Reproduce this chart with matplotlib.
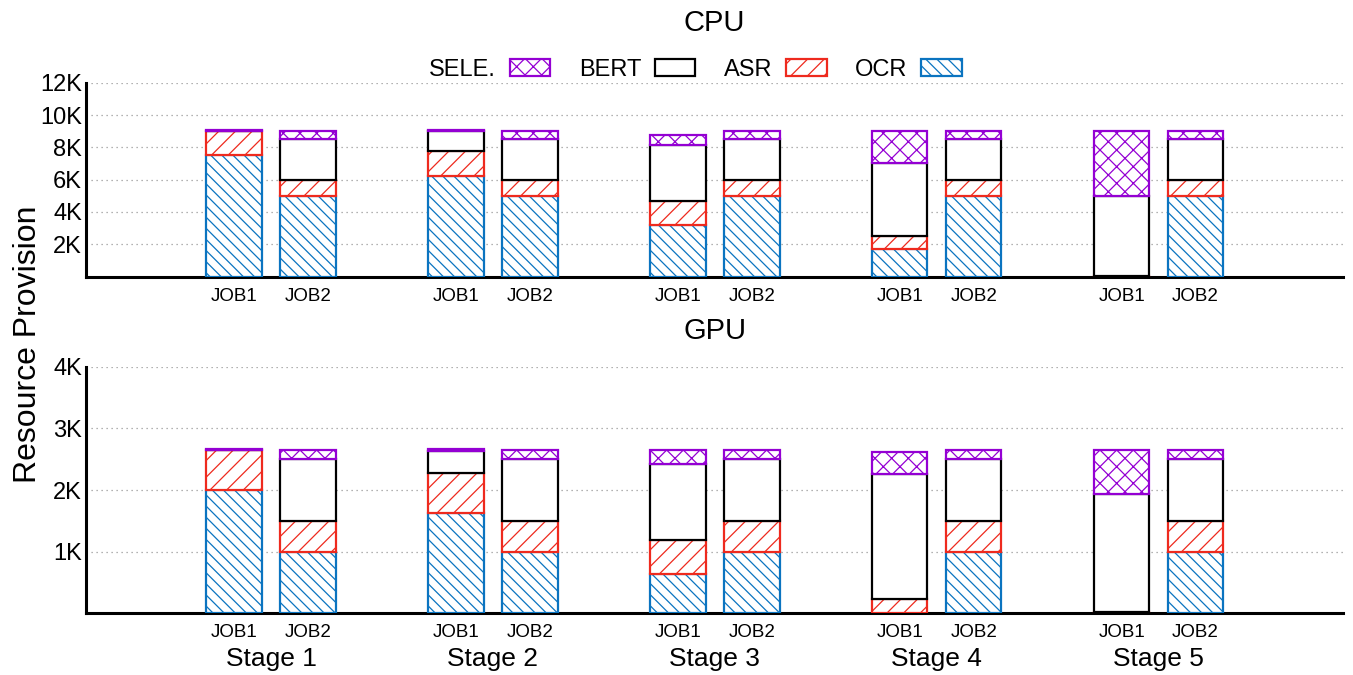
import matplotlib
matplotlib.use("Agg")
import matplotlib.pyplot as plt
import numpy as np

plt.rcParams['font.family'] = ['Liberation Sans', 'DejaVu Sans']
plt.rcParams['hatch.linewidth'] = 0.9

stages = ["Stage 1", "Stage 2", "Stage 3", "Stage 4", "Stage 5"]
jobs = ["JOB1", "JOB2"]
series = ["OCR", "ASR", "BERT", "SELE."]

# CPU provision (per stage), JOB1 and JOB2
cpu_job1_ocr = [7500, 6200, 3200, 1700, 0]
cpu_job1_asr = [1500, 1600, 1500, 800, 30]
cpu_job1_bert = [0, 1200, 3450, 4500, 4970]
cpu_job1_sele = [50, 80, 600, 2000, 4000]
cpu_job2_ocr = [5000, 5000, 5000, 5000, 5000]
cpu_job2_asr = [1000, 1000, 1000, 1000, 1000]
cpu_job2_bert = [2500, 2500, 2500, 2500, 2500]
cpu_job2_sele = [500, 500, 500, 500, 500]

# GPU provision
gpu_job1_ocr = [2000, 1630, 640, 10, 0]
gpu_job1_asr = [650, 650, 550, 230, 15]
gpu_job1_bert = [0, 360, 1230, 2020, 1925]
gpu_job1_sele = [20, 20, 230, 350, 710]
gpu_job2_ocr = [1000, 1000, 1000, 1000, 1000]
gpu_job2_asr = [500, 500, 500, 500, 500]
gpu_job2_bert = [1000, 1000, 1000, 1000, 1000]
gpu_job2_sele = [150, 150, 150, 150, 150]

cpu_ticks = [2000, 4000, 6000, 8000, 10000, 12000]
cpu_ticklabels = ["2K", "4K", "6K", "8K", "10K", "12K"]
gpu_ticks = [1000, 2000, 3000, 4000]
gpu_ticklabels = ["1K", "2K", "3K", "4K"]

styles = {
    "OCR": dict(facecolor="white", edgecolor="#0b74c0", hatch="\\\\\\"),
    "ASR": dict(facecolor="white", edgecolor="#ee2a1e", hatch="//"),
    "BERT": dict(facecolor="white", edgecolor="black", hatch=None),
    "SELE.": dict(facecolor="white", edgecolor="#9400d3", hatch="xx"),
}

fig = plt.figure(figsize=(13.53, 6.75), dpi=100)
ax_cpu = fig.add_axes([0.0636, 0.5902, 0.929, 0.2873])
ax_gpu = fig.add_axes([0.0636, 0.0914, 0.929, 0.3653])

x = np.arange(len(stages))
offset = 1 / 6
width = 0.25


def draw(ax, job_data, ymax, ticks, ticklabels):
    handles = {}
    for j, data in enumerate(job_data):
        pos = x + (-offset if j == 0 else offset)
        bottom = np.zeros(len(stages))
        for name, vals in zip(series, data):
            b = ax.bar(pos, vals, width, bottom=bottom, linewidth=1.6,
                       label=name, zorder=3, **styles[name])
            handles[name] = b
            bottom = bottom + np.array(vals)
    ax.set_ylim(0, ymax)
    ax.set_xlim(-0.834, 4.831)
    ax.set_yticks(ticks)
    ax.set_yticklabels(ticklabels, fontsize=17)
    xt = np.concatenate([x - offset, x + offset])
    ax.set_xticks(xt)
    ax.set_xticklabels([jobs[0]] * len(x) + [jobs[1]] * len(x), fontsize=13.5)
    ax.tick_params(axis='both', length=0)
    ax.tick_params(axis='y', pad=3)
    ax.tick_params(axis='x', pad=8)
    for s in ["top", "right"]:
        ax.spines[s].set_visible(False)
    for s in ["left", "bottom"]:
        ax.spines[s].set_linewidth(2.2)
    ax.yaxis.grid(True, linestyle=(0, (1, 3)), color="#999999", linewidth=0.9, zorder=0)
    ax.set_axisbelow(True)
    return handles


h = draw(ax_cpu, [[cpu_job1_ocr, cpu_job1_asr, cpu_job1_bert, cpu_job1_sele],
                  [cpu_job2_ocr, cpu_job2_asr, cpu_job2_bert, cpu_job2_sele]],
         12000, cpu_ticks, cpu_ticklabels)
ax_cpu.set_title("CPU", fontsize=21, pad=37)

draw(ax_gpu, [[gpu_job1_ocr, gpu_job1_asr, gpu_job1_bert, gpu_job1_sele],
              [gpu_job2_ocr, gpu_job2_asr, gpu_job2_bert, gpu_job2_sele]],
     4000, gpu_ticks, gpu_ticklabels)
ax_gpu.set_title("GPU", fontsize=21, pad=20)

for i, st in enumerate(stages):
    ax_gpu.text(x[i], -0.185, st, transform=ax_gpu.get_xaxis_transform(),
                ha="center", va="center", fontsize=19)

order = ["SELE.", "BERT", "ASR", "OCR"]
fig.legend([h[n] for n in order], order, loc="center", bbox_to_anchor=(0.514, 0.897),
           ncol=4, frameon=False, markerfirst=False, fontsize=17,
           handlelength=1.7, handleheight=0.7, handletextpad=0.6, columnspacing=1.2)

fig.text(0.021, 0.49, "Resource Provision", rotation=90, ha="center", va="center", fontsize=23)

fig.savefig("out.png", dpi=100)
